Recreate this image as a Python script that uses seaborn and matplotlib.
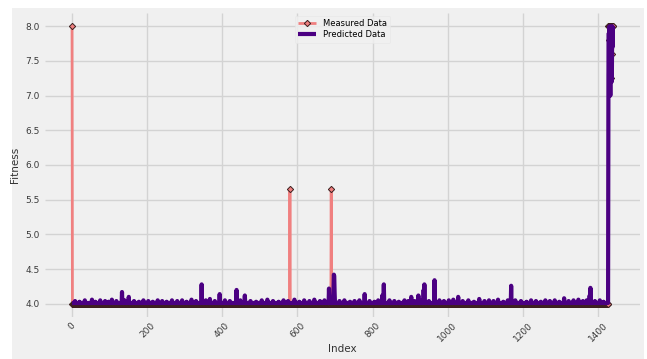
import numpy as np
import pandas as pd
import matplotlib
matplotlib.use("Agg")
import matplotlib.pyplot as plt
from matplotlib.patches import Rectangle
import seaborn as sns

# ---- data -------------------------------------------------------------
n_points = 1441                      # sample index 0 .. 1440
measured_base = 4.0
measured_peak_idx = [0, 580, 690]
measured_peak_val = [8.0, 5.66, 5.66]
tail_start = 1428
measured_tail = [8.0, 8.0, 7.8, 8.0, 7.45, 8.0, 7.25, 8.0, 8.0, 7.6, 8.0, 8.0, 8.0]

predicted_base = 4.012
pred_bump_idx = [
    8, 20, 34, 53, 62, 75, 88, 97, 106, 118,
    133, 140, 151, 165, 178, 190, 203, 215, 228, 240,
    252, 266, 280, 293, 305, 318, 330, 345, 356, 367,
    380, 393, 407, 420, 438, 448, 460, 475, 490, 505,
    520, 535, 550, 563, 575, 592, 605, 618, 632, 645,
    660, 672, 684, 696, 697, 698, 699, 712, 725, 740,
    752, 765, 779, 792, 805, 815, 826, 830, 845, 858,
    870, 885, 895, 903, 912, 922, 930, 936, 938, 950,
    965, 978, 990, 1003, 1015, 1028, 1040, 1055, 1070, 1084,
    1098, 1110, 1122, 1134, 1148, 1160, 1169, 1180, 1195, 1210,
    1222, 1235, 1248, 1260, 1272, 1285, 1297, 1310, 1322, 1335,
    1348, 1360, 1370, 1378, 1380, 1392, 1405, 1415,
]
pred_bump_val = [
    4.04, 4.03, 4.05, 4.06, 4.03, 4.05, 4.04, 4.03, 4.06, 4.04,
    4.17, 4.05, 4.10, 4.04, 4.03, 4.05, 4.04, 4.03, 4.05, 4.04,
    4.03, 4.05, 4.04, 4.05, 4.03, 4.06, 4.04, 4.28, 4.05, 4.07,
    4.04, 4.14, 4.05, 4.04, 4.20, 4.05, 4.12, 4.04, 4.03, 4.05,
    4.06, 4.04, 4.03, 4.05, 4.04, 4.06, 4.03, 4.05, 4.04, 4.06,
    4.04, 4.05, 4.22, 4.18, 4.42, 4.40, 4.16, 4.04, 4.05, 4.03,
    4.04, 4.05, 4.14, 4.04, 4.03, 4.05, 4.12, 4.28, 4.05, 4.04,
    4.03, 4.05, 4.04, 4.10, 4.04, 4.12, 4.05, 4.20, 4.28, 4.04,
    4.34, 4.05, 4.04, 4.05, 4.06, 4.10, 4.04, 4.05, 4.03, 4.07,
    4.04, 4.05, 4.04, 4.06, 4.03, 4.05, 4.26, 4.05, 4.04, 4.03,
    4.05, 4.04, 4.03, 4.05, 4.04, 4.05, 4.03, 4.08, 4.04, 4.05,
    4.06, 4.04, 4.05, 4.12, 4.23, 4.04, 4.05, 4.03,
]
predicted_tail = [7.3, 7.9, 7.1, 8.0, 7.6, 7.0, 7.95, 7.5, 7.9, 7.2, 8.0, 7.7, 8.0]

xtick_vals = [0, 200, 400, 600, 800, 1000, 1200, 1400]
ytick_vals = [4.0, 4.5, 5.0, 5.5, 6.0, 6.5, 7.0, 7.5, 8.0]

# ---- assemble series ---------------------------------------------------
index = np.arange(n_points)
measured = np.full(n_points, measured_base)
measured[measured_peak_idx] = measured_peak_val
measured[tail_start:tail_start + len(measured_tail)] = measured_tail

predicted = np.full(n_points, predicted_base)
predicted[pred_bump_idx] = pred_bump_val
predicted[tail_start:tail_start + len(predicted_tail)] = predicted_tail

df = pd.DataFrame({"Index": index, "Measured": measured, "Predicted": predicted})

# ---- plot -------------------------------------------------------------
plt.style.use("fivethirtyeight")
fig = plt.figure(figsize=(6.47, 3.59), dpi=100, facecolor="white")
fig.patches.append(Rectangle((12 / 647, 0), (644 - 12) / 647, 1 - 8 / 359,
                             transform=fig.transFigure, facecolor="#f0f0f0",
                             edgecolor="none", zorder=-10))
ax = fig.add_axes([45 / 647, 1 - 317 / 359, (640 - 45) / 647, (317 - 13) / 359])
ax.set_facecolor("#f0f0f0")

sns.lineplot(data=df, x="Index", y="Measured", ax=ax, color="#f08080",
             linewidth=2.0, marker="D", markersize=3.2,
             markeredgecolor="#3a1f1f", markeredgewidth=0.7,
             estimator=None, label="Measured Data")
sns.lineplot(data=df, x="Index", y="Predicted", ax=ax, color="#4b0082",
             linewidth=3.0, estimator=None, label="Predicted Data")

ax.set_xlim(-72, 1512)
ax.set_ylim(3.81, 8.19)
ax.set_xticks(xtick_vals)
ax.set_yticks(ytick_vals)
ax.set_xticklabels([str(v) for v in xtick_vals], rotation=45, fontsize=6.5,
                   color="#3a3a3a")
ax.set_yticklabels([f"{v:.1f}" for v in ytick_vals], fontsize=6.5,
                   color="#3a3a3a")
ax.tick_params(axis="x", length=0, pad=3)
ax.tick_params(axis="y", length=0, pad=4)
ax.grid(True, color="#d3d3d3", linewidth=1.0)
for s in ax.spines.values():
    s.set_visible(False)

ax.set_xlabel("Index", fontsize=7.5, color="#333333")
ax.set_ylabel("Fitness", fontsize=7.5, color="#333333")
ax.xaxis.set_label_coords(0.5, -0.105)
ax.xaxis.label.set_va("center")
ax.yaxis.set_label_coords(-0.050, 0.5)
ax.yaxis.label.set_va("center")

leg = ax.legend(loc="upper center", fontsize=6, frameon=True, numpoints=1,
                borderaxespad=0.3, handlelength=2.2, labelspacing=0.3,
                bbox_to_anchor=(0.5, 1.0))
leg.get_frame().set_facecolor("#f0f0f0")
leg.get_frame().set_edgecolor("#e6e6e6")

fig.savefig("out.png", dpi=100, facecolor=fig.get_facecolor())
